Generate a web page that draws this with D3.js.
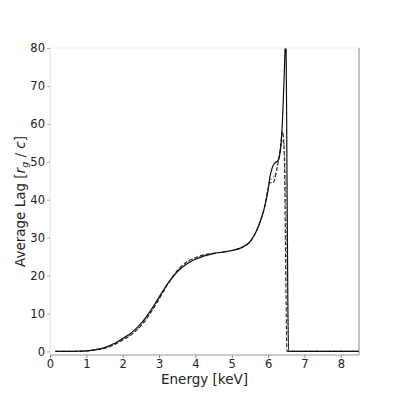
<!DOCTYPE html>
<html>
<head>
<meta charset="utf-8">
<script src="https://cdn.jsdelivr.net/npm/d3@7"></script>
<style>
  body { margin: 0; background: #fff; }
  text { font-family: "DejaVu Sans", sans-serif; }
</style>
</head>
<body>
<div id="plt"></div>
<script>
// energy grid (keV) and lag values
const solidE = [0.15, 0.5, 0.8, 1.0, 1.25, 1.5, 1.75, 2.0, 2.25, 2.5, 2.75, 3.0, 3.25, 3.5, 3.75, 4.0, 4.25, 4.5, 4.75, 5.0, 5.25, 5.5, 5.6, 5.7, 5.8, 5.9, 6.0, 6.05, 6.1, 6.15, 6.2, 6.25, 6.3, 6.35, 6.4, 6.45, 6.49, 6.52, 6.56, 7.0, 8.5];
const solidLag = [0, 0, 0.05, 0.15, 0.45, 1.0, 2.0, 3.4, 5.0, 7.3, 10.5, 14.3, 18.0, 21.0, 23.0, 24.3, 25.2, 25.8, 26.2, 26.6, 27.3, 28.9, 30.3, 32.2, 34.7, 38, 42.5, 46, 48, 49.2, 49.8, 50.1, 51, 54, 62, 75, 86, 45, 0, 0, 0];

const dashE = [0.15, 0.5, 0.8, 1.0, 1.25, 1.5, 1.75, 2.0, 2.25, 2.5, 2.75, 3.0, 3.25, 3.5, 3.75, 4.0, 4.25, 4.5, 4.75, 5.0, 5.25, 5.5, 5.6, 5.7, 5.8, 5.9, 6.0, 6.05, 6.1, 6.15, 6.2, 6.25, 6.3, 6.35, 6.4, 6.45, 6.48, 6.52, 7.0, 8.5];
const dashLag = [0, 0, 0.03, 0.1, 0.35, 0.8, 1.7, 3.0, 4.5, 6.7, 9.9, 13.8, 17.9, 21.3, 23.5, 24.7, 25.5, 25.9, 26.2, 26.6, 27.3, 28.9, 30.3, 32.2, 34.7, 38, 43, 44.6, 44.4, 44.6, 46, 48.5, 51, 55, 58, 50, 25, 0, 0, 0];

const dotE = [0.15, 0.5, 0.8, 1.0, 1.25, 1.5, 1.75, 2.0, 2.25, 2.5, 2.75, 3.0, 3.25, 3.5, 3.75, 4.0, 4.25, 4.5, 4.75, 5.0, 5.25, 5.5, 5.6, 5.7, 5.8, 5.9, 6.0, 6.05, 6.1, 6.15, 6.2, 6.25, 6.3, 6.35, 6.42, 6.46, 6.5, 6.53, 6.57, 7.0, 8.5];
const dotLag = [0, 0, 0.03, 0.1, 0.35, 0.85, 1.8, 3.1, 4.6, 6.9, 10.1, 14.0, 18.0, 21.2, 23.3, 24.5, 25.4, 25.9, 26.2, 26.6, 27.3, 28.9, 30.3, 32.2, 34.7, 38, 43, 45, 45.5, 46, 47, 49, 51.5, 54, 56, 50, 32, 15, 0, 0, 0];

const xTicks = [0, 1, 2, 3, 4, 5, 6, 7, 8];
const yTicks = [0, 10, 20, 30, 40, 50, 60, 70, 80];

const series = [
  { e: solidE, lag: solidLag, stroke: "#111", dash: null, w: 1.2 },
  { e: dashE, lag: dashLag, stroke: "#222", dash: "4,2", w: 1.1 },
  { e: dotE, lag: dotLag, stroke: "#888", dash: "2,2", w: 1.1 }
];

const margin = { top: 48, right: 40, bottom: 44, left: 50 };
const W = 399, H = 399;
const width = W - margin.left - margin.right;
const height = H - margin.top - margin.bottom;

const svg = d3.select("#plt")
    .append("svg")
    .attr("width", W)
    .attr("height", H);

const g = svg.append("g")
    .attr("transform", `translate(${margin.left},${margin.top})`);

const x = d3.scaleLinear().domain([0, 8.5]).range([0, width]);
const y = d3.scaleLinear().domain([-0.95, 80]).range([height, 0]);

g.append("defs").append("clipPath")
    .attr("id", "clip")
  .append("rect")
    .attr("width", width)
    .attr("height", height);

// lines
const line = d3.line()
    .curve(d3.curveMonotoneX)
    .x(d => x(d[0]))
    .y(d => y(d[1]));

g.append("g")
    .attr("clip-path", "url(#clip)")
  .selectAll("path")
  .data(series.slice().reverse())
  .enter()
  .append("path")
    .attr("d", s => line(s.e.map((v, i) => [v, s.lag[i]])))
    .attr("fill", "none")
    .attr("stroke", s => s.stroke)
    .attr("stroke-width", s => s.w)
    .attr("stroke-dasharray", s => s.dash);

// spines
g.append("line").attr("x1", 0).attr("x2", width).attr("y1", 0).attr("y2", 0)
    .attr("stroke", "#eee").attr("stroke-width", 1);
g.append("line").attr("x1", width).attr("x2", width).attr("y1", 0).attr("y2", height)
    .attr("stroke", "#888").attr("stroke-width", 1);

const xAxis = g.append("g")
    .attr("transform", `translate(0,${height})`)
    .call(d3.axisBottom(x).tickValues(xTicks).tickSize(3).tickPadding(2).tickFormat(d3.format("d")));
const yAxis = g.append("g")
    .call(d3.axisLeft(y).tickValues(yTicks).tickSize(3).tickPadding(2).tickFormat(d3.format("d")));

xAxis.select(".domain").attr("stroke", "#999").attr("d", `M0,0H${width}`);
yAxis.select(".domain").attr("stroke", "#ddd").attr("d", `M0,0V${-height}`).attr("transform", `translate(0,${height})`);
xAxis.selectAll(".tick line").attr("stroke", "#888");
yAxis.selectAll(".tick line").attr("stroke", "#aaa");
svg.selectAll(".tick text").attr("font-size", 11.5).attr("fill", "#222")
    .attr("font-family", "DejaVu Sans, sans-serif");

// axis labels
svg.append("text")
    .attr("x", margin.left + width / 2)
    .attr("y", 384)
    .attr("text-anchor", "middle")
    .attr("font-size", 13.5)
    .attr("fill", "#222")
    .text("Energy [keV]");

const yl = svg.append("text")
    .attr("transform", `translate(25,${margin.top + height / 2}) rotate(-90)`)
    .attr("text-anchor", "middle")
    .attr("font-size", 13.5)
    .attr("fill", "#222");
yl.append("tspan").text("Average Lag [");
yl.append("tspan").attr("font-style", "italic").text("r");
yl.append("tspan").attr("font-size", 9.5).attr("dy", 3).attr("font-style", "italic").text("g");
yl.append("tspan").attr("dy", -3).text(" / ");
yl.append("tspan").attr("font-style", "italic").text("c");
yl.append("tspan").text("]");
</script>
</body>
</html>
